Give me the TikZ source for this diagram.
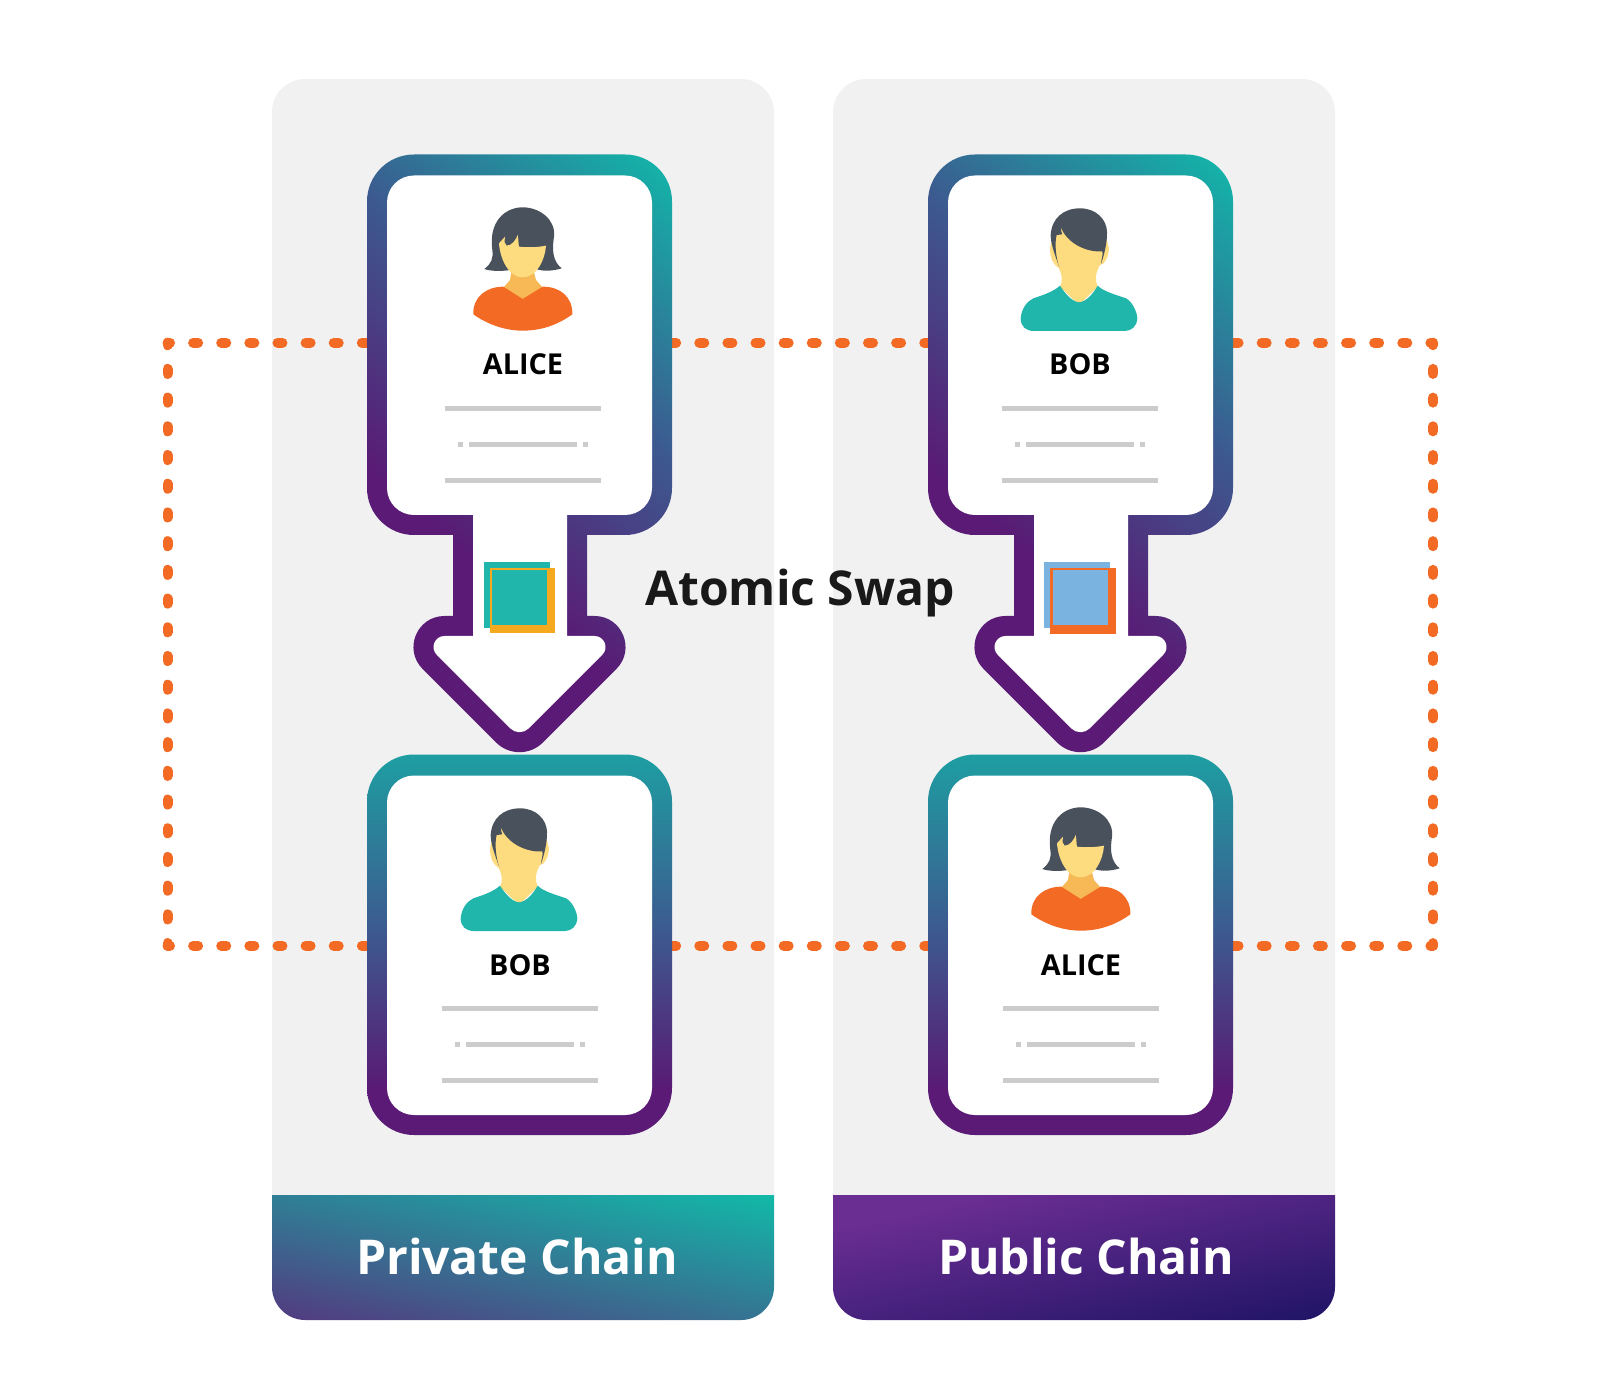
\documentclass[tikz,border=0pt]{standalone}
\usepackage{fontspec}
\setmainfont{Open Sans}
\usetikzlibrary{calc}
\definecolor{panelgray}{HTML}{F1F1F1}
\definecolor{dotorange}{HTML}{F36A24}
\definecolor{ringteal}{HTML}{14B2A8}
\definecolor{ringblue}{HTML}{3C5A8F}
\definecolor{ringpurple}{HTML}{5A1A75}
\definecolor{lowteal}{HTML}{1E9EA2}
\definecolor{linegray}{HTML}{CCCCCC}
\definecolor{hair}{HTML}{49525C}
\definecolor{skin}{HTML}{FDDB7F}
\definecolor{neck}{HTML}{F6B955}
\definecolor{shirt}{HTML}{20B6AC}
\definecolor{amber}{HTML}{F4A91E}
\definecolor{skyblue}{HTML}{7AB3E0}
\definecolor{privlow}{HTML}{533A80}
\definecolor{privhigh}{HTML}{12B8A8}
\definecolor{publow}{HTML}{1F1466}
\definecolor{pubhigh}{HTML}{6A2D92}
\pgfdeclareverticalshading{ringdiag}{100bp}{color(0bp)=(ringpurple); color(44.25bp)=(ringpurple); color(54.7bp)=(ringblue); color(65.35bp)=(ringteal); color(100bp)=(ringteal)}
\pgfdeclareverticalshading{ringvert}{100bp}{color(0bp)=(ringpurple); color(42.75bp)=(ringpurple); color(50.75bp)=(ringblue); color(59.5bp)=(lowteal); color(100bp)=(lowteal)}
\pgfdeclareverticalshading{privshade}{100bp}{color(0bp)=(privlow); color(44.35bp)=(privlow); color(55.65bp)=(privhigh); color(100bp)=(privhigh)}
\pgfdeclareverticalshading{pubshade}{100bp}{color(0bp)=(publow); color(44.35bp)=(publow); color(54bp)=(pubhigh); color(100bp)=(pubhigh)}
\tikzset{
  x=0.5pt,y=-0.5pt,
  cardname/.style={font=\fontsize{14.4}{16}\selectfont\bfseries,text=black,inner sep=0pt,anchor=base},
  bigname/.style={font=\fontsize{24}{28}\selectfont\bfseries,inner sep=0pt,anchor=base},
  dotline/.style={draw=dotorange,line width=5pt,line cap=round},
  rule/.style={fill=linegray},
}
% shape values for offset D
\newcommand{\shapevals}[1]{%
  \pgfmathsetmacro{\shL}{377-(#1)}\pgfmathsetmacro{\shR}{662+(#1)}%
  \pgfmathsetmacro{\shT}{165-1.05*(#1)}\pgfmathsetmacro{\shB}{525+(#1)}%
  \pgfmathsetmacro{\shr}{37+(#1)}\pgfmathsetmacro{\shk}{0.5523*\shr}%
  \pgfmathsetmacro{\shSL}{463-(#1)}\pgfmathsetmacro{\shSR}{577+(#1)}%
  \pgfmathsetmacro{\shHT}{626-(#1)}%
  \pgfmathsetmacro{\sha}{21+(#1)}\pgfmathsetmacro{\shak}{0.891*\sha}%
  \pgfmathsetmacro{\shb}{23+(#1)}\pgfmathsetmacro{\shbk}{0.5523*\shb*0.7071}%
  \pgfmathsetmacro{\shLB}{1125+(#1)}\pgfmathsetmacro{\shLT}{765-1.05*(#1)}%
  \pgfmathsetmacro{\shLTT}{\shLT+\shr}\pgfmathsetmacro{\shLTK}{\shLT+\shr-\shk}%
  \pgfmathsetmacro{\shaLx}{444.5-0.7071*\sha}\pgfmathsetmacro{\shaLy}{647+0.7071*\sha}%
  \pgfmathsetmacro{\shaRx}{1039-\shaLx}%
  \pgfmathsetmacro{\shaCLx}{\shaLx-0.7071*\shak}\pgfmathsetmacro{\shaCLy}{\shaLy-0.7071*\shak}%
  \pgfmathsetmacro{\shaCRx}{1039-\shaCLx}%
  \pgfmathsetmacro{\shtLx}{519.5-0.7071*\shb}\pgfmathsetmacro{\shtRx}{519.5+0.7071*\shb}\pgfmathsetmacro{\shty}{719.2+0.7071*\shb}%
}
\newcommand{\arrowpath}{(\shL+\shr,\shT) -- (\shR-\shr,\shT) .. controls (\shR-\shr+\shk,\shT) and (\shR,\shT+\shr-\shk) .. (\shR,\shT+\shr) -- (\shR,\shB-\shr) .. controls (\shR,\shB-\shr+\shk) and (\shR-\shr+\shk,\shB) .. (\shR-\shr,\shB) -- (\shSR,\shB) -- (\shSR,\shHT) -- (594.5,\shHT) .. controls (594.5+\shak,\shHT) and (\shaCRx,\shaCLy) .. (\shaRx,\shaLy) -- (\shtRx,\shty) .. controls (\shtRx-\shbk,\shty+\shbk) and (\shtLx+\shbk,\shty+\shbk) .. (\shtLx,\shty) -- (\shaLx,\shaLy) .. controls (\shaCLx,\shaCLy) and (444.5-\shak,\shHT) .. (444.5,\shHT) -- (\shSL,\shHT) -- (\shSL,\shB) -- (\shL+\shr,\shB) .. controls (\shL+\shr-\shk,\shB) and (\shL,\shB-\shr+\shk) .. (\shL,\shB-\shr) -- (\shL,\shT+\shr) .. controls (\shL,\shT+\shr-\shk) and (\shL+\shr-\shk,\shT) .. (\shL+\shr,\shT) -- cycle}
\newcommand{\lowpath}{(\shL+\shr,\shLT) -- (\shR-\shr,\shLT) .. controls (\shR-\shr+\shk,\shLT) and (\shR,\shLTK) .. (\shR,\shLTT) -- (\shR,\shLB-\shr) .. controls (\shR,\shLB-\shr+\shk) and (\shR-\shr+\shk,\shLB) .. (\shR-\shr,\shLB) -- (\shL+\shr,\shLB) .. controls (\shL+\shr-\shk,\shLB) and (\shL,\shLB-\shr+\shk) .. (\shL,\shLB-\shr) -- (\shL,\shLTT) .. controls (\shL,\shLTK) and (\shL+\shr-\shk,\shLT) .. (\shL+\shr,\shLT) -- cycle}
\newcommand{\arrowcard}[1]{%
  \begin{scope}[shift={(#1,0)}]
    \shapevals{10}
    \begin{scope}\clip \arrowpath;
      \shade[shading=ringdiag,shading angle=-41] (19.5,-50) rectangle (1019.5,950);
    \end{scope}
    \shapevals{-10}
    \fill[white] \arrowpath;
  \end{scope}}
\newcommand{\lowcard}[1]{%
  \begin{scope}[shift={(#1,0)}]
    \shapevals{10}
    \begin{scope}\clip \lowpath;
      \shade[shading=ringvert] (19.5,445) rectangle (1019.5,1445);
    \end{scope}
    \shapevals{-10}
    \fill[white] \lowpath;
  \end{scope}}
\newcommand{\alicefig}[2]{%
  \begin{scope}[shift={(#1,#2)},x=0.16667pt,y=-0.16667pt]
    \fill[neck] (185,225) -- (180,255) -- (160,278) -- (218,315) -- (278,278) -- (258,255) -- (250,225) -- cycle;
    \fill[hair] (103,222) .. controls (125,205) and (130,190) .. (127,165) .. controls (115,80) and (165,37) .. (218,37) .. controls (270,37) and (318,75) .. (312,125) .. controls (305,170) and (310,200) .. (335,220) .. controls (310,228) and (280,230) .. (258,222) -- (180,225) .. controls (150,230) and (120,228) .. (103,222) -- cycle;
    \fill[skin] (147,145) -- (165,125) .. controls (163,140) and (163,148) .. (170,152) .. controls (185,152) and (198,135) .. (203,120) .. controls (206,135) and (205,148) .. (207,155) .. controls (235,158) and (262,157) .. (288,152) .. controls (285,195) and (260,247) .. (218,247) .. controls (175,247) and (150,190) .. (147,145) -- cycle;
    \fill[dotorange] (70,358) .. controls (68,305) and (110,275) .. (160,275) -- (218,312) -- (278,275) .. controls (330,275) and (368,305) .. (367,358) .. controls (320,392) and (270,407) .. (218,407) .. controls (165,407) and (112,388) .. (70,358) -- cycle;
  \end{scope}}
\newcommand{\bobfig}[2]{%
  \begin{scope}[shift={(#1,#2)},x=0.16667pt,y=-0.16667pt]
    \fill[skin] (180,290) .. controls (190,270) and (185,255) .. (177,235) .. controls (160,225) and (150,205) .. (150,175) -- (165,110) -- (310,110) -- (327,175) .. controls (325,205) and (312,225) .. (300,225) .. controls (285,250) and (285,270) .. (293,290) -- (237,345) -- cycle;
    \fill[shirt] (62,385) .. controls (65,355) and (80,335) .. (100,325) .. controls (130,315) and (160,305) .. (180,287) .. controls (195,310) and (215,335) .. (237,337) .. controls (260,335) and (280,310) .. (293,287) .. controls (310,305) and (350,315) .. (378,325) .. controls (395,335) and (410,360) .. (412,385) .. controls (410,410) and (395,422) .. (375,423) -- (100,423) .. controls (78,422) and (62,410) .. (62,385) -- cycle;
    \fill[hair] (178,232) .. controls (163,190) and (152,160) .. (152,135) .. controls (155,85) and (190,55) .. (240,55) .. controls (290,55) and (320,90) .. (321,125) .. controls (322,160) and (312,195) .. (303,222) .. controls (304,205) and (310,195) .. (307,184) .. controls (260,188) and (200,160) .. (182,110) .. controls (183,120) and (184,128) .. (187,133) -- (170,135) .. controls (163,160) and (168,205) .. (178,232) -- cycle;
  \end{scope}}
\newcommand{\rules}[2]{%
  \begin{scope}[shift={(#1,#2)}]
    \fill[rule] (-78,-2.5) rectangle (78,2.5);
    \fill[rule] (-65,33.2) rectangle (-60,38.2);
    \fill[rule] (-54,33.2) rectangle (54,38.2);
    \fill[rule] (60,33.2) rectangle (65,38.2);
    \fill[rule] (-78,69.5) rectangle (78,74.5);
  \end{scope}}
\begin{document}
\begin{tikzpicture}
\useasboundingbox (0,0) rectangle (1600,1400);
\fill[white] (0,0) rectangle (1600,1400);
% panels
\fill[panelgray] (272,1196) -- (272,112) .. controls (272,94) and (287,79) .. (305,79) -- (741,79) .. controls (759,79) and (774,94) .. (774,112) -- (774,1196) -- cycle;
\fill[panelgray] (833,1196) -- (833,112) .. controls (833,94) and (848,79) .. (866,79) -- (1302,79) .. controls (1320,79) and (1335,94) .. (1335,112) -- (1335,1196) -- cycle;
% footers
\begin{scope}
  \clip (272,1195) -- (774,1195) -- (774,1287) .. controls (774,1305) and (759,1320) .. (741,1320) -- (305,1320) .. controls (287,1320) and (272,1305) .. (272,1287) -- cycle;
  \shade[shading=privshade,shading angle=-12] (23,758) rectangle (1023,1758);
\end{scope}
\begin{scope}
  \clip (833,1195) -- (1335,1195) -- (1335,1287) .. controls (1335,1305) and (1320,1320) .. (1302,1320) -- (866,1320) .. controls (848,1320) and (833,1305) .. (833,1287) -- cycle;
  \shade[shading=pubshade,shading angle=12] (584,758) rectangle (1584,1758);
\end{scope}
\node[bigname,text=white] (privlabel) at (517,1274) {Private Chain};
\node[bigname,text=white] (publabel) at (1086,1274) {Public Chain};
% dotted frame
\coordinate (fa) at (167.5,342.7);
\coordinate (fb) at (1433,342.7);
\coordinate (fc) at (1433,945.7);
\coordinate (fd) at (167.5,945.7);
\begin{scope}
  \clip (162.5,337.7) rectangle (1438,950.7);
  \draw[dotline,dash pattern=on 2.5pt off 11.56pt,dash phase=1.25pt] (fa) -- (fb);
  \draw[dotline,dash pattern=on 2.5pt off 11.56pt,dash phase=1.25pt] (fd) -- (fc);
  \draw[dotline,dash pattern=on 2.5pt off 11.855pt,dash phase=1.25pt] (fa) -- (fd);
  \draw[dotline,dash pattern=on 2.5pt off 11.855pt,dash phase=1.25pt] (fb) -- (fc);
\end{scope}
% cards
\arrowcard{0}
\arrowcard{561}
\lowcard{0}
\lowcard{561}
% figures
\alicefig{450}{195}
\bobfig{1000}{190}
\bobfig{440}{790}
\alicefig{1008}{795}
% names
\node[cardname] (n1) at (523,375) {ALICE};
\node[cardname] (n2) at (1080,375) {BOB};
\node[cardname] (n3) at (520,975) {BOB};
\node[cardname] (n4) at (1081,975) {ALICE};
\rules{523}{408.7}
\rules{1080}{408.7}
\rules{520}{1008.3}
\rules{1081}{1008.3}
% tokens
\fill[shirt] (484,562) rectangle (549.7,627.7);
\fill[amber] (490,568) rectangle (555.2,633.5);
\fill[shirt] (492,570) rectangle (547.3,625.3);
\fill[skyblue] (1044.3,562) rectangle (1110,627.7);
\fill[dotorange] (1050,568) rectangle (1116,634);
\fill[skyblue] (1053,570) rectangle (1107.5,625);
\node[bigname,text=black!90] (swap) at (800,606) {Atomic Swap};
\end{tikzpicture}
\end{document}
